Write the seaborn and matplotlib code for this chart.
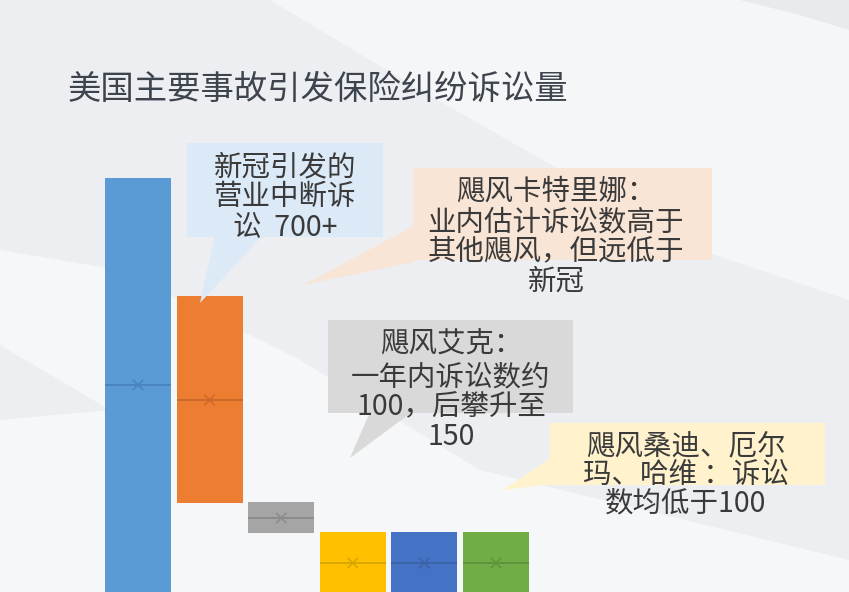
import numpy as np
import pandas as pd
import matplotlib.pyplot as plt
from matplotlib.patches import Polygon
import seaborn as sns

# Box extents (no axis is shown, units are arbitrary)
events = ['新冠', '卡特里娜', '艾克', '桑迪', '厄尔玛', '哈维']
box_low = [0, 178, 118, 0, 0, 0]
box_high = [828, 592, 180, 120, 120, 120]
box_mid = [414, 384, 148, 58, 58, 58]
box_colors = ['#5b9bd5', '#ed7d31', '#a5a5a5', '#ffc000', '#4472c4', '#70ad47']
line_colors = ['#4a83bd', '#c8692b', '#8a8a8a', '#d9a400', '#3a62a8', '#5e923b']

title = '美国主要事故引发保险纠纷诉讼量'
note_covid = ['新冠引发的', '营业中断诉', '讼  700+']
note_katrina = ['飓风卡特里娜：', '业内估计诉讼数高于', '其他飓风，但远低于', '新冠']
note_ike = ['飓风艾克：', '一年内诉讼数约', '100，后攀升至', '150']
note_others = ['飓风桑迪、厄尔', '玛、哈维 ：诉讼', '数均低于100']

sns.set_theme(style='white')
plt.rcParams['font.family'] = ['Noto Sans CJK SC', 'DejaVu Sans']

fig = plt.figure(figsize=(8.49, 5.92), dpi=100)
fig.patch.set_facecolor('#eceef1')

# background swooshes, drawn in pixel coordinates
bg = fig.add_axes([0, 0, 1, 1], zorder=0)
bg.set_xlim(0, 849)
bg.set_ylim(592, 0)
bg.axis('off')
bg.add_patch(Polygon([(270, 0), (849, 0), (849, 300), (700, 250), (560, 170), (420, 90)],
                     fc='#f5f6f7', ec='none'))
bg.add_patch(Polygon([(740, 0), (849, 0), (849, 30), (800, 15)], fc='#e8eaed', ec='none'))
bg.add_patch(Polygon([(0, 250), (120, 270), (300, 360), (480, 470), (849, 560), (849, 592),
                      (0, 592), (0, 420), (110, 410), (0, 345)],
                     fc='#f6f7f8', ec='none'))

# the boxes
ax = fig.add_axes([0, 0, 1, 1], zorder=1)
ax.patch.set_alpha(0)
df = pd.DataFrame({'event': events,
                   'span': np.subtract(box_high, box_low),
                   'mid': box_mid})
sns.barplot(data=df, x='event', y='span', hue='event', palette=box_colors,
            width=0.92, saturation=1, legend=False, linewidth=0, ax=ax)
for patch, lo in zip(ax.patches, box_low):
    patch.set_y(lo)
    patch.set_edgecolor('none')

pos = np.arange(len(events))
ax.hlines(box_mid, pos - 0.46, pos + 0.46, colors=line_colors, lw=1.3)
sns.scatterplot(data=df, x='event', y='mid', hue='event', palette=line_colors,
                marker='x', s=55, linewidth=1.1, legend=False, ax=ax)

ax.set_xlim(-1.927, 9.93)
ax.set_ylim(0, 1184)
ax.axis('off')

# title and callouts, pixel coordinates again
top = fig.add_axes([0, 0, 1, 1], zorder=2)
top.set_xlim(0, 849)
top.set_ylim(592, 0)
top.axis('off')
top.patch.set_alpha(0)

top.text(68, 89, title, ha='left', va='center', fontsize=24, color='#3e444e')


def callout(box, tail, color, lines, ys, cx):
    x0, y0, x1, y1 = box
    top.add_patch(Polygon([(x0, y0), (x1, y0), (x1, y1), (x0, y1)], fc=color, ec='none'))
    top.add_patch(Polygon(tail, fc=color, ec='none'))
    for t, y in zip(lines, ys):
        top.text(cx, y, t, ha='center', va='center', fontsize=20.5, color='#3a3a3a')


callout((187, 143, 383, 237), [(215, 236), (262, 236), (200, 303)], '#dce9f6',
        note_covid, [167, 197, 227], 285)
callout((413, 168, 712, 260), [(414, 226), (414, 262), (303, 285)], '#f9e5d6',
        note_katrina, [192, 222, 251, 282], 556)
callout((328, 320, 573, 413), [(370, 412), (412, 412), (350, 458)], '#d9d9d9',
        note_ike, [345, 377, 407, 437], 451)
callout((550, 423, 825, 485), [(551, 458), (551, 484), (503, 490)], '#fff2cc',
        note_others, [447, 475, 503], 686)

fig.savefig('out.png', dpi=100, facecolor=fig.get_facecolor())
